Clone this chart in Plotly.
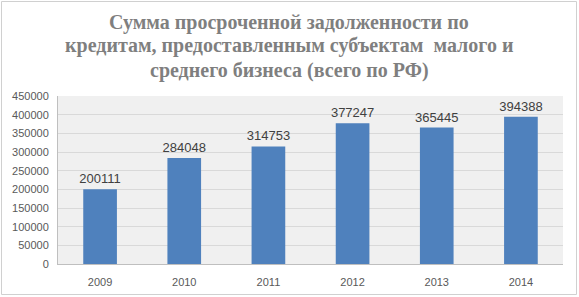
import plotly.graph_objects as go

years = ["2009", "2010", "2011", "2012", "2013", "2014"]
values = [200111, 284048, 314753, 377247, 365445, 394388]
y_ticks = [0, 50000, 100000, 150000, 200000, 250000, 300000, 350000, 400000, 450000]
title_lines = [
    "Сумма просроченной задолженности по",
    "кредитам, предоставленным субъектам\u00a0 малого и",
    "среднего бизнеса (всего по РФ)",
]

W, H = 579, 297
ml, mr, mt, mb = 58, 16, 96, 33
pw = W - ml - mr
ph = H - mt - mb

LBL_FONT = "Liberation Sans, Arial, sans-serif"

fig = go.Figure()
fig.add_trace(go.Bar(
    x=years, y=values,
    marker=dict(color="#4F81BD", line=dict(width=0)),
    text=[str(v) for v in values],
    textposition="outside",
    constraintext="none",
    textfont=dict(family=LBL_FONT, size=13, color="#404040"),
    cliponaxis=False,
))

def px2paper_x(px):
    return (px - ml) / pw

def px2paper_y(py):
    return (H - mb - py) / ph

line_centers = [22, 46, 70]
annotations = [
    dict(
        text=t,
        xref="paper", yref="paper",
        x=px2paper_x(289), xanchor="center",
        y=px2paper_y(cy), yanchor="middle",
        showarrow=False, align="center",
        font=dict(family="Liberation Serif, serif", size=20, color="#7f7f7f", weight="bold"),
    )
    for t, cy in zip(title_lines, line_centers)
]

fig.update_layout(
    width=W, height=H,
    margin=dict(l=ml, r=mr, t=mt, b=mb),
    paper_bgcolor="white",
    plot_bgcolor="#f0f0f0",
    bargap=0.6,
    showlegend=False,
    xaxis=dict(
        automargin=False,
        showgrid=False,
        showline=True, linecolor="#bfbfbf", linewidth=1,
        ticks="", tickfont=dict(family=LBL_FONT, size=11, color="#595959"),
        ticklabelstandoff=8,
    ),
    yaxis=dict(
        automargin=False,
        range=[0, 450000],
        tickvals=y_ticks,
        ticktext=[str(t) for t in y_ticks],
        showgrid=True, gridcolor="#d9d9d9", gridwidth=1,
        showline=True, linecolor="#bfbfbf", linewidth=1,
        zeroline=False,
        ticks="", tickfont=dict(family=LBL_FONT, size=11, color="#595959"),
        ticklabelstandoff=6,
    ),
    annotations=annotations,
    shapes=[dict(
        type="rect", xref="paper", yref="paper",
        x0=px2paper_x(1.5), x1=px2paper_x(W - 2.5),
        y0=px2paper_y(H - 2.5), y1=px2paper_y(1.5),
        line=dict(color="#d0d0d0", width=1), fillcolor="rgba(0,0,0,0)", layer="above",
    )],
)

fig.write_html(
    "out.html",
    config={"displayModeBar": False},
    post_script="document.body.style.margin='0';document.body.style.overflow='hidden';",
)
